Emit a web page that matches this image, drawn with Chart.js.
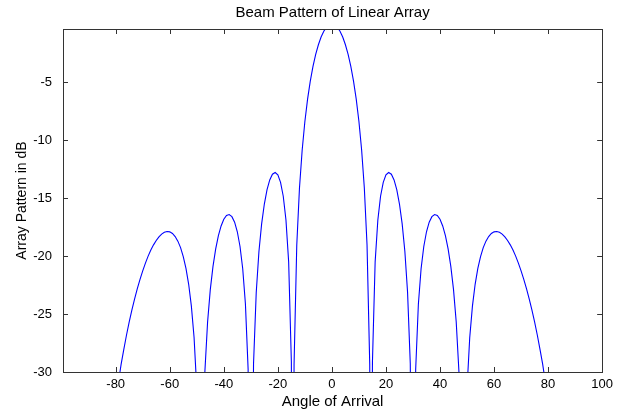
<html>
<head>
    <script src="https://cdn.jsdelivr.net/npm/chart.js"></script>
    <style>
        body { margin: 0; background: white; }
        canvas { display: block; }
    </style>
</head>
<body>
    <canvas id="chart" width="618" height="411"></canvas>

    <script>
        // angle of arrival (deg) and array pattern (dB)
        const angleDeg = [
            -90, -85, -80, -79, -78, -77, -76, -75, -74, -73, -72, -71, -70, -69, -68, -67, -66, -65, -64, -63,
            -62, -61, -60, -59, -58, -57, -56, -55, -54, -53, -52, -51, -50, -49, -48.59, -48, -47, -46, -45, -44,
            -43, -42, -41, -40, -39, -38, -37, -36, -35, -34, -33, -32, -31, -30, -29, -28, -27, -26, -25, -24,
            -23, -22, -21, -20, -19, -18, -17, -16, -15, -14.48, -14, -13, -12, -11, -10, -9, -8, -7, -6, -5,
            -4, -3, -2, -1, 0,
            1, 2, 3, 4, 5, 6, 7, 8, 9, 10, 11, 12, 13, 14, 14.48, 15, 16, 17, 18, 19,
            20, 21, 22, 23, 24, 25, 26, 27, 28, 29, 30, 31, 32, 33, 34, 35, 36, 37, 38, 39,
            40, 41, 42, 43, 44, 45, 46, 47, 48, 48.59, 49, 50, 51, 52, 53, 54, 55, 56, 57, 58,
            59, 60, 61, 62, 63, 64, 65, 66, 67, 68, 69, 70, 71, 72, 73, 74, 75, 76, 77, 78,
            79, 80, 85, 90
        ];
        const patternDb = [
            -60, -44.5, -32.5, -30.9, -29.34, -28.05, -26.81, -25.68, -24.65, -23.69, -22.82, -22.02, -21.28, -20.61, -20.01, -19.49, -19.04, -18.66, -18.35, -18.11,
            -17.96, -17.89, -17.92, -18.06, -18.32, -18.72, -19.28, -20.05, -21.07, -22.44, -24.32, -27.03, -31.43, -41.96, -60, -38.64, -29.95, -25.69, -22.90, -20.89,
            -19.38, -18.24, -17.41, -16.83, -16.51, -16.43, -16.61, -17.08, -17.91, -19.18, -21.10, -24.14, -29.77, -60, -29.29, -23.15, -19.61, -17.23, -15.52, -14.28,
            -13.44, -12.95, -12.80, -13.01, -13.65, -14.85, -16.89, -20.51, -29.13, -60, -29.34, -19.05, -14.14, -10.86, -8.40, -6.48, -4.93, -3.66, -2.62, -1.79,
            -1.12, -0.63, -0.28, -0.07, 0,
            -0.07, -0.28, -0.63, -1.12, -1.79, -2.62, -3.66, -4.93, -6.48, -8.40, -10.86, -14.14, -19.05, -29.34, -60, -29.13, -20.51, -16.89, -14.85, -13.65,
            -13.01, -12.80, -12.95, -13.44, -14.28, -15.52, -17.23, -19.61, -23.15, -29.29, -60, -29.77, -24.14, -21.10, -19.18, -17.91, -17.08, -16.61, -16.43, -16.51,
            -16.83, -17.41, -18.24, -19.38, -20.89, -22.90, -25.69, -29.95, -38.64, -60, -41.96, -31.43, -27.03, -24.32, -22.44, -21.07, -20.05, -19.28, -18.72, -18.32,
            -18.06, -17.92, -17.89, -17.96, -18.11, -18.35, -18.66, -19.04, -19.49, -20.01, -20.61, -21.28, -22.02, -22.82, -23.69, -24.65, -25.68, -26.81, -28.05, -29.34,
            -30.9, -32.5, -44.5, -60
        ];
        const xTicks = [-80, -60, -40, -20, 0, 20, 40, 60, 80, 100];
        const yTicks = [-30, -25, -20, -15, -10, -5];

        const fontFamily = "'Liberation Sans', Arial, sans-serif";

        // matlab style box with inward ticks on all four sides
        const matlabBox = {
            id: 'matlabBox',
            afterDatasetsDraw(chart) {
                const { ctx, chartArea: a, scales: { x, y } } = chart;
                const len = 5;
                ctx.save();
                ctx.strokeStyle = '#333';
                ctx.lineWidth = 1;
                ctx.beginPath();
                xTicks.forEach(v => {
                    const px = Math.round(x.getPixelForValue(v)) + 0.5;
                    ctx.moveTo(px, a.bottom); ctx.lineTo(px, a.bottom - len);
                    ctx.moveTo(px, a.top); ctx.lineTo(px, a.top + len);
                });
                yTicks.forEach(v => {
                    const py = Math.round(y.getPixelForValue(v)) + 0.5;
                    ctx.moveTo(a.left, py); ctx.lineTo(a.left + len, py);
                    ctx.moveTo(a.right, py); ctx.lineTo(a.right - len, py);
                });
                ctx.stroke();
                ctx.strokeRect(Math.round(a.left) + 0.5, Math.round(a.top) + 0.5,
                    Math.round(a.right - a.left), Math.round(a.bottom - a.top));
                ctx.restore();
            }
        };

        new Chart(document.getElementById('chart'), {
            type: 'line',
            data: {
                datasets: [{
                    data: angleDeg.map((a, i) => ({ x: a, y: patternDb[i] })),
                    borderColor: '#0000ff',
                    borderWidth: 1.1,
                    pointRadius: 0,
                    tension: 0,
                    fill: false
                }]
            },
            options: {
                responsive: false,
                animation: false,
                layout: { padding: { left: 0, right: 11, top: 0, bottom: 0 } },
                plugins: {
                    legend: { display: false },
                    tooltip: { enabled: false },
                    title: {
                        display: true,
                        fullSize: false,
                        text: 'Beam Pattern of Linear Array',
                        color: '#000',
                        font: { family: fontFamily, size: 15, weight: 'normal' },
                        padding: { top: 4, bottom: 7 }
                    }
                },
                scales: {
                    x: {
                        type: 'linear',
                        min: -99.5,
                        max: 100,
                        afterBuildTicks: s => { s.ticks = xTicks.map(v => ({ value: v })); },
                        afterFit: s => { s.height = 39; },
                        grid: { display: false, drawTicks: false, tickLength: 0 },
                        border: { display: false },
                        ticks: { color: '#000', padding: 5, font: { family: fontFamily, size: 13 } },
                        title: {
                            display: true,
                            text: 'Angle of Arrival',
                            color: '#000',
                            font: { family: fontFamily, size: 15 },
                            padding: { top: 0, bottom: 0 }
                        }
                    },
                    y: {
                        min: -30,
                        max: -0.43,
                        afterBuildTicks: s => { s.ticks = yTicks.map(v => ({ value: v })); },
                        afterFit: s => { s.width = 63; },
                        grid: { display: false, drawTicks: false, tickLength: 0 },
                        border: { display: false },
                        ticks: { color: '#000', padding: 11, font: { family: fontFamily, size: 13 } },
                        title: {
                            display: true,
                            text: 'Array Pattern in dB',
                            color: '#000',
                            font: { family: fontFamily, size: 14 },
                            padding: { top: 14, bottom: 0 }
                        }
                    }
                }
            },
            plugins: [matlabBox]
        });
    </script>
</body>
</html>
